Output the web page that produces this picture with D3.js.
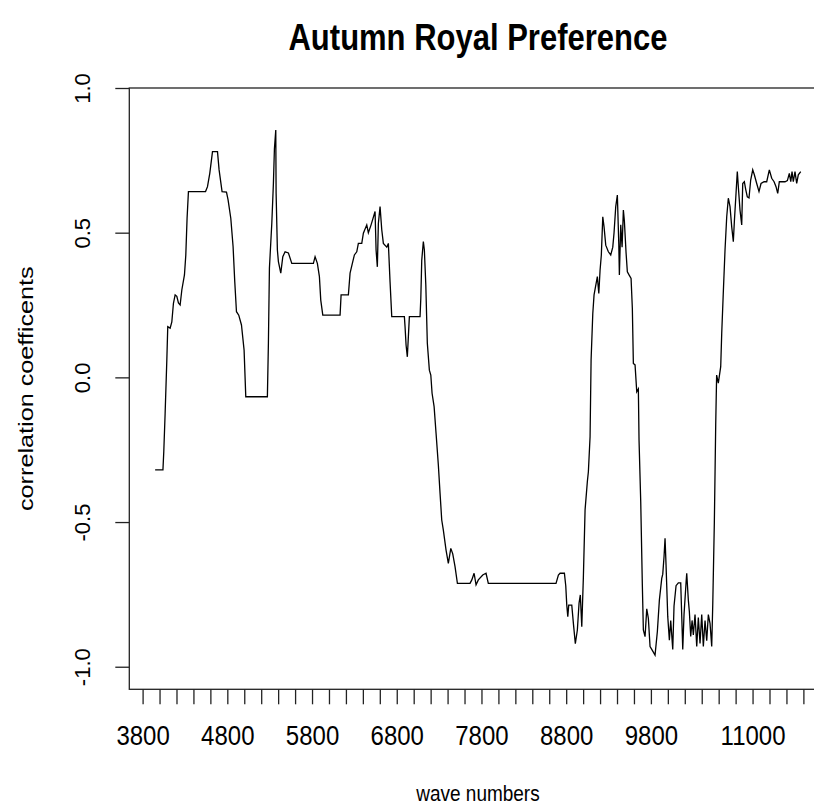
<!DOCTYPE html>
<html>
<head>
<meta charset="utf-8">
<script src="https://cdn.jsdelivr.net/npm/d3@7"></script>
<style>
  body { margin: 0; background: #fff; }
  text { font-family: "Liberation Sans", Arial, sans-serif; fill: #000; }
</style>
</head>
<body>
<div id="chart"></div>
<script>
// wave numbers
const waveNumbers = [
  3948, 4040, 4050, 4066, 4086, 4097, 4125, 4145, 4164, 4184,
  4204, 4223, 4243, 4263, 4294, 4310, 4325, 4341, 4543, 4566,
  4593, 4625, 4684, 4703, 4738, 4790, 4809, 4841, 4868, 4888,
  4908, 4935, 4967, 4998, 5018, 5273, 5285, 5297, 5325, 5344,
  5356, 5372, 5376, 5391, 5403, 5431, 5455, 5482, 5521, 5561,
  5816, 5836, 5863, 5887, 5903, 5927, 6131, 6143, 6229, 6249,
  6276, 6300, 6328, 6347, 6387, 6406, 6446, 6465, 6497, 6544,
  6556, 6571, 6583, 6603, 6623, 6642, 6682, 6701, 6721, 6741,
  6890, 6898, 6910, 6925, 6937, 6949, 7075, 7084, 7095, 7114,
  7126, 7143, 7161, 7185, 7202, 7217, 7241, 7264, 7291, 7311,
  7331, 7350, 7382, 7409, 7438, 7461, 7488, 7516, 7665, 7686,
  7713, 7736, 7763, 7815, 7854, 7881, 8680, 8708, 8728, 8779,
  8795, 8807, 8819, 8830, 8866, 8885, 8908, 8932, 8952, 8967,
  8984, 9003, 9023, 9050, 9062, 9082, 9094, 9114, 9129, 9168,
  9185, 9200, 9215, 9232, 9247, 9267, 9298, 9326, 9350, 9365,
  9385, 9404, 9421, 9428, 9444, 9460, 9475, 9487, 9507, 9522,
  9542, 9566, 9581, 9593, 9613, 9633, 9652, 9660, 9680, 9699,
  9711, 9731, 9751, 9770, 9790, 9810, 9849, 9876, 9900, 9928,
  9940, 9955, 9967, 9979, 9999, 10018, 10034, 10058, 10073, 10097,
  10124, 10152, 10176, 10191, 10215, 10223, 10242, 10254, 10270, 10286,
  10301, 10321, 10341, 10360, 10380, 10400, 10419, 10439, 10459, 10478,
  10498, 10518, 10530, 10549, 10565, 10576, 10596, 10624, 10636, 10655,
  10675, 10695, 10714, 10734, 10754, 10773, 10785, 10805, 10820, 10832,
  10852, 10872, 10884, 10903, 10919, 10938, 10958, 10978, 11002, 11021,
  11049, 11076, 11100, 11135, 11167, 11198, 11226, 11254, 11277, 11297,
  11316, 11383, 11411, 11434, 11451, 11466, 11481, 11501, 11521, 11540,
  11569
];

const correlation = [
  -0.32, -0.32, -0.257, -0.124, 0.06, 0.175, 0.17, 0.192, 0.256, 0.285,
  0.28, 0.257, 0.25, 0.302, 0.354, 0.423, 0.55, 0.642, 0.642, 0.659,
  0.705, 0.78, 0.78, 0.717, 0.642, 0.64, 0.613, 0.55, 0.452, 0.33,
  0.227, 0.215, 0.181, 0.094, -0.067, -0.067, 0.118, 0.377, 0.532, 0.67,
  0.79, 0.855, 0.636, 0.44, 0.40, 0.36, 0.417, 0.434, 0.43, 0.394,
  0.394, 0.417, 0.394, 0.348, 0.267, 0.215, 0.215, 0.285, 0.285, 0.36,
  0.394, 0.423, 0.434, 0.463, 0.463, 0.498, 0.527, 0.5, 0.527, 0.573,
  0.44, 0.382, 0.532, 0.59, 0.51, 0.463, 0.45, 0.463, 0.33, 0.21,
  0.21, 0.175, 0.112, 0.071, 0.14, 0.21, 0.21, 0.273, 0.405, 0.469,
  0.44, 0.32, 0.118, 0.025, 0.008, -0.055, -0.101, -0.193, -0.303, -0.40,
  -0.493, -0.528, -0.597, -0.643, -0.591, -0.61, -0.654, -0.712, -0.712, -0.70,
  -0.677, -0.717, -0.70, -0.683, -0.677, -0.712, -0.712, -0.683, -0.677, -0.677,
  -0.72, -0.787, -0.827, -0.787, -0.787, -0.85, -0.92, -0.873, -0.78, -0.752,
  -0.862, -0.69, -0.458, -0.36, -0.326, -0.205, 0.06, 0.22, 0.285, 0.348,
  0.29, 0.37, 0.423, 0.555, 0.52, 0.457, 0.434, 0.423, 0.45, 0.5,
  0.59, 0.63, 0.46, 0.354, 0.527, 0.45, 0.578, 0.54, 0.43, 0.365,
  0.354, 0.342, 0.239, 0.048, 0.043, -0.05, -0.04, -0.217, -0.43, -0.718,
  -0.873, -0.896, -0.80, -0.833, -0.93, -0.94, -0.96, -0.879, -0.77, -0.695,
  -0.68, -0.62, -0.556, -0.65, -0.827, -0.908, -0.84, -0.94, -0.79, -0.72,
  -0.71, -0.71, -0.94, -0.82, -0.71, -0.677, -0.77, -0.81, -0.895, -0.84,
  -0.89, -0.82, -0.93, -0.83, -0.92, -0.82, -0.93, -0.84, -0.91, -0.82,
  -0.85, -0.93, -0.787, -0.5, -0.165, 0.008, -0.02, 0.037, 0.152, 0.296,
  0.44, 0.555, 0.619, 0.59, 0.52, 0.469, 0.538, 0.636, 0.711, 0.659,
  0.578, 0.527, 0.67, 0.676, 0.65, 0.624, 0.62, 0.682, 0.717, 0.70,
  0.67, 0.642, 0.67, 0.676, 0.676, 0.717, 0.688, 0.676, 0.659, 0.636,
  0.676, 0.676, 0.68, 0.705, 0.676, 0.711, 0.676, 0.711, 0.67, 0.70,
  0.711
];

const xTicks = d3.range(3800, 11601, 200);
const xTickLabels = [3800, 4800, 5800, 6800, 7800, 8800, 9800, 11000];
const yTicks = [-1.0, -0.5, 0.0, 0.5, 1.0];

const width = 814, height = 810;
const plot = { left: 129.3, right: 826.6, top: 88, bottom: 689.3 };

const svg = d3.select("#chart").append("svg")
  .attr("width", width)
  .attr("height", height);

svg.append("rect").attr("width", width).attr("height", height).attr("fill", "#fff");

let x = d3.scaleLinear().domain([3643, 11874]).range([plot.left, plot.right]);
let y = d3.scaleLinear().domain([-1.078, 1.0]).range([plot.bottom, plot.top]);

// x axis (ticks only, box draws the line)
let xAxis = d3.axisBottom(x).tickValues(xTicks).tickSize(15).tickFormat(d => xTickLabels.includes(d) ? d : "");
let gx = svg.append("g")
  .attr("transform", "translate(0," + plot.bottom + ")")
  .call(xAxis);
gx.select(".domain").remove();
gx.selectAll(".tick line").attr("stroke", "#222").attr("stroke-width", 1.3);
gx.selectAll(".tick text")
  .attr("y", 0).attr("dy", 0)
  .attr("transform", "translate(0,56) scale(1,1.15)")
  .style("font-size", "24px")
  .attr("fill", "#000");

// y axis with R-style rotated labels
let yAxis = d3.axisLeft(y).tickValues(yTicks).tickSize(14).tickFormat(d => d.toFixed(1));
let gy = svg.append("g")
  .attr("transform", "translate(" + plot.left + ",0)")
  .call(yAxis);
gy.select(".domain").remove();
gy.selectAll(".tick line").attr("stroke", "#222").attr("stroke-width", 1.3);
gy.selectAll(".tick text")
  .attr("x", 0).attr("dy", 0)
  .attr("text-anchor", "middle")
  .attr("transform", "translate(-39.3,0) rotate(-90)")
  .style("font-size", "22px")
  .attr("fill", "#000");

// plot box
svg.append("rect")
  .attr("x", plot.left).attr("y", plot.top)
  .attr("width", plot.right - plot.left).attr("height", plot.bottom - plot.top)
  .attr("fill", "none").attr("stroke", "#222").attr("stroke-width", 1.3);

// the series
let line = d3.line()
  .x((d, i) => x(waveNumbers[i]))
  .y(d => y(d));

svg.append("path")
  .datum(correlation)
  .attr("fill", "none")
  .attr("stroke", "#000")
  .attr("stroke-width", 1.3)
  .attr("d", line);

// titles
svg.append("text")
  .attr("transform", "translate(" + (plot.left + plot.right) / 2 + ",50) scale(1,1.2)")
  .attr("text-anchor", "middle")
  .style("font-size", "31px")
  .style("font-weight", "bold")
  .text("Autumn Royal Preference");

svg.append("text")
  .attr("transform", "translate(" + (plot.left + plot.right) / 2 + ",801) scale(1,1.2)")
  .attr("text-anchor", "middle")
  .style("font-size", "19px")
  .text("wave numbers");

svg.append("text")
  .attr("transform", "translate(33," + (plot.top + plot.bottom) / 2 + ") rotate(-90) scale(1.23,1)")
  .attr("text-anchor", "middle")
  .style("font-size", "20.5px")
  .text("correlation coefficents");
</script>
</body>
</html>
